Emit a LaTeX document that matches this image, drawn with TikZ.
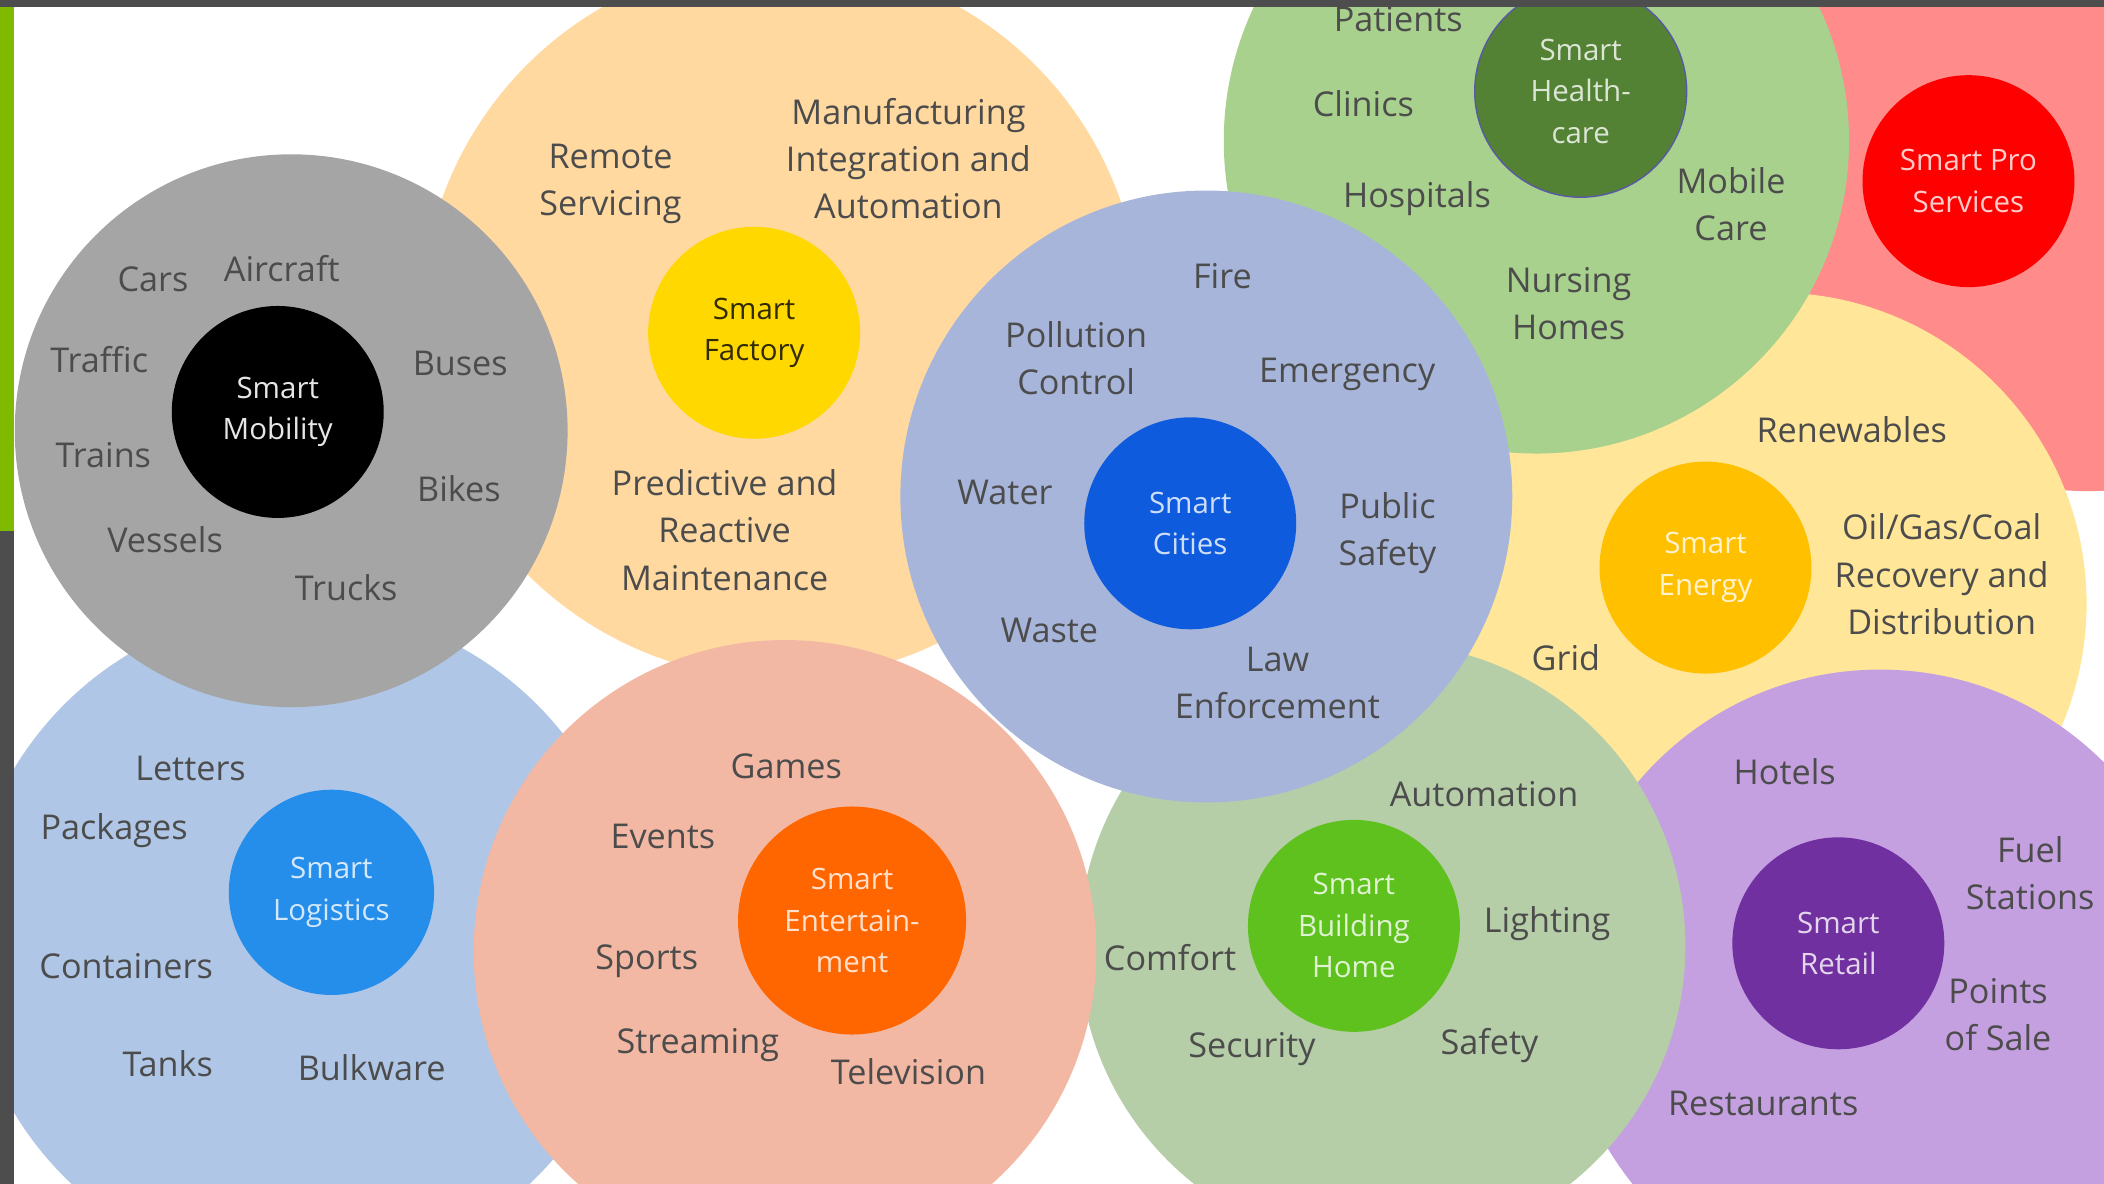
\documentclass[tikz,border=0pt]{standalone}
\usepackage{fontspec}
\setmainfont{Open Sans}

% colours of the bubbles
\definecolor{barGray}{HTML}{4D4D4D}
\definecolor{barGreen}{HTML}{7FBA00}
\definecolor{mobOuter}{HTML}{A5A5A5}
\definecolor{facOuter}{HTML}{FFD9A0}
\definecolor{facInner}{HTML}{FFD800}
\definecolor{citOuter}{HTML}{A7B5DA}
\definecolor{citInner}{HTML}{0F5BDE}
\definecolor{hltOuter}{HTML}{A9D18E}
\definecolor{hltInner}{HTML}{548235}
\definecolor{proOuter}{HTML}{FF8B8B}
\definecolor{proInner}{HTML}{FF0000}
\definecolor{nrgOuter}{HTML}{FFE699}
\definecolor{nrgInner}{HTML}{FFC000}
\definecolor{logOuter}{HTML}{AFC6E6}
\definecolor{logInner}{HTML}{258DEA}
\definecolor{entOuter}{HTML}{F3B8A3}
\definecolor{entInner}{HTML}{FF6600}
\definecolor{bldOuter}{HTML}{B5CEA8}
\definecolor{bldInner}{HTML}{5FC11E}
\definecolor{retOuter}{HTML}{C5A0E0}
\definecolor{retInner}{HTML}{7030A0}

\tikzset{
  lbl/.style={text=black!70, align=center, inner sep=0pt,
    font=\fontsize{14.5}{20}\selectfont},
  hub/.style={circle, minimum size=3.16cm, inner sep=0pt, align=center,
    text=white, text opacity=.8, font=\fontsize{12.5}{17.6}\selectfont},
}

\begin{document}
\begin{tikzpicture}[x=0.02cm, y=0.02cm]
    \useasboundingbox (0,0) rectangle (1568,-882);
    \begin{scope}
    \clip (0,0) rectangle (1568,-882);

    % Outer bubbles, back to front
    \fill[proOuter] (1556,-128) circle (238);
    \fill[nrgOuter] (1323,-450) circle (232);
    \fill[retOuter] (1401,-735) circle (236);
    \fill[bldOuter] (1030,-705) circle (226);
    \fill[facOuter] (582,-238) circle (268);
    \fill[logOuter] (224,-701) circle (249);
    \fill[mobOuter] (217,-321) circle (206);
    \fill[hltOuter] (1145,-105) circle (233);
    \fill[citOuter] (899,-370) circle (228);
    \fill[entOuter] (585,-709) circle (232);

    % Inner bubbles
    \node[hub, fill=black, text opacity=.9] (mobility) at (207,-307) {Smart\\Mobility};
    \node[hub, fill=facInner, text=black] (factory) at (562,-248) {Smart\\Factory};
    \node[hub, fill=citInner] (cities) at (887,-390) {Smart\\Cities};
    \node[hub, fill=hltInner, draw=blue!30!gray, line width=0.6pt] (health) at (1178,-68) {Smart\\Health-\\care};
    \node[hub, fill=proInner] (pro) at (1467,-135) {Smart Pro\\Services};
    \node[hub, fill=nrgInner] (energy) at (1271,-423) {Smart\\Energy};
    \node[hub, fill=logInner, minimum size=3.06cm] (logistics) at (247,-665) {Smart\\Logistics};
    \node[hub, fill=entInner, minimum size=3.4cm] (entertain) at (635,-686) {Smart\\Entertain-\\ment};
    \node[hub, fill=bldInner] (building) at (1009,-690) {Smart\\Building\\Home};
    \node[hub, fill=retInner] (retail) at (1370,-703) {Smart\\Retail};

    % Mobility
    \node[lbl] (cars) at (114,-208) {Cars};
    \node[lbl] (aircraft) at (210,-200) {Aircraft};
    \node[lbl] (traffic) at (74,-268) {Traffic};
    \node[lbl] (buses) at (343,-271) {Buses};
    \node[lbl] (trains) at (77,-339) {Trains};
    \node[lbl] (bikes) at (342,-364) {Bikes};
    \node[lbl] (vessels) at (123,-402) {Vessels};
    \node[lbl] (trucks) at (258,-438) {Trucks};

    % Factory
    \node[lbl] (remote) at (455,-137) {Remote\\Servicing};
    \node[lbl] (manuf) at (677,-118) {Manufacturing\\Integration and\\Automation};
    \node[lbl] (predict) at (540,-395) {Predictive and\\Reactive\\Maintenance};

    % Cities
    \node[lbl] (fire) at (911,-206) {Fire};
    \node[lbl] (pollution) at (802,-267) {Pollution\\Control};
    \node[lbl] (emergency) at (1004,-279) {Emergency};
    \node[lbl] (water) at (749,-367) {Water};
    \node[lbl] (safetyPub) at (1034,-397) {Public\\Safety};
    \node[lbl] (waste) at (782,-470) {Waste};
    \node[lbl] (law) at (952,-509) {Law\\Enforcement};

    % Healthcare
    \node[lbl] (patients) at (1042,-14) {Patients};
    \node[lbl] (clinics) at (1016,-77) {Clinics};
    \node[lbl] (hospitals) at (1056,-148) {Hospitals};
    \node[lbl] (mobile) at (1290,-152) {Mobile\\Care};
    \node[lbl] (nursing) at (1169,-226) {Nursing\\Homes};

    % Energy
    \node[lbl] (renew) at (1380,-320) {Renewables};
    \node[lbl] (oil) at (1447,-428) {Oil/Gas/Coal\\Recovery and\\Distribution};
    \node[lbl] (grid) at (1167,-490) {Grid};

    % Logistics
    \node[lbl] (letters) at (142,-573) {Letters};
    \node[lbl] (packages) at (85,-619) {Packages};
    \node[lbl] (containers) at (94,-720) {Containers};
    \node[lbl] (tanks) at (125,-793) {Tanks};
    \node[lbl] (bulk) at (277,-796) {Bulkware};

    % Entertainment
    \node[lbl] (games) at (586,-571) {Games};
    \node[lbl] (events) at (494,-623) {Events};
    \node[lbl] (sports) at (482,-716) {Sports};
    \node[lbl] (streaming) at (520,-779) {Streaming};
    \node[lbl] (tv) at (677,-799) {Television};

    % Building / Home
    \node[lbl] (autom) at (1106,-592) {Automation};
    \node[lbl] (lighting) at (1153,-688) {Lighting};
    \node[lbl] (comfort) at (872,-714) {Comfort};
    \node[lbl] (security) at (933,-782) {Security};
    \node[lbl] (safety) at (1110,-779) {Safety};

    % Retail
    \node[lbl] (hotels) at (1330,-575) {Hotels};
    \node[lbl] (fuel) at (1513,-651) {Fuel\\Stations};
    \node[lbl] (pos) at (1489,-756) {Points\\of Sale};
    \node[lbl] (restaurants) at (1314,-822) {Restaurants};

    % Slide frame bars
    \fill[barGray] (0,0) rectangle (1568,-5.2);
    \fill[barGreen] (0,-5.2) rectangle (10.4,-396);
    \fill[barGray] (0,-396) rectangle (10.4,-882);
    \end{scope}
\end{tikzpicture}
\end{document}
